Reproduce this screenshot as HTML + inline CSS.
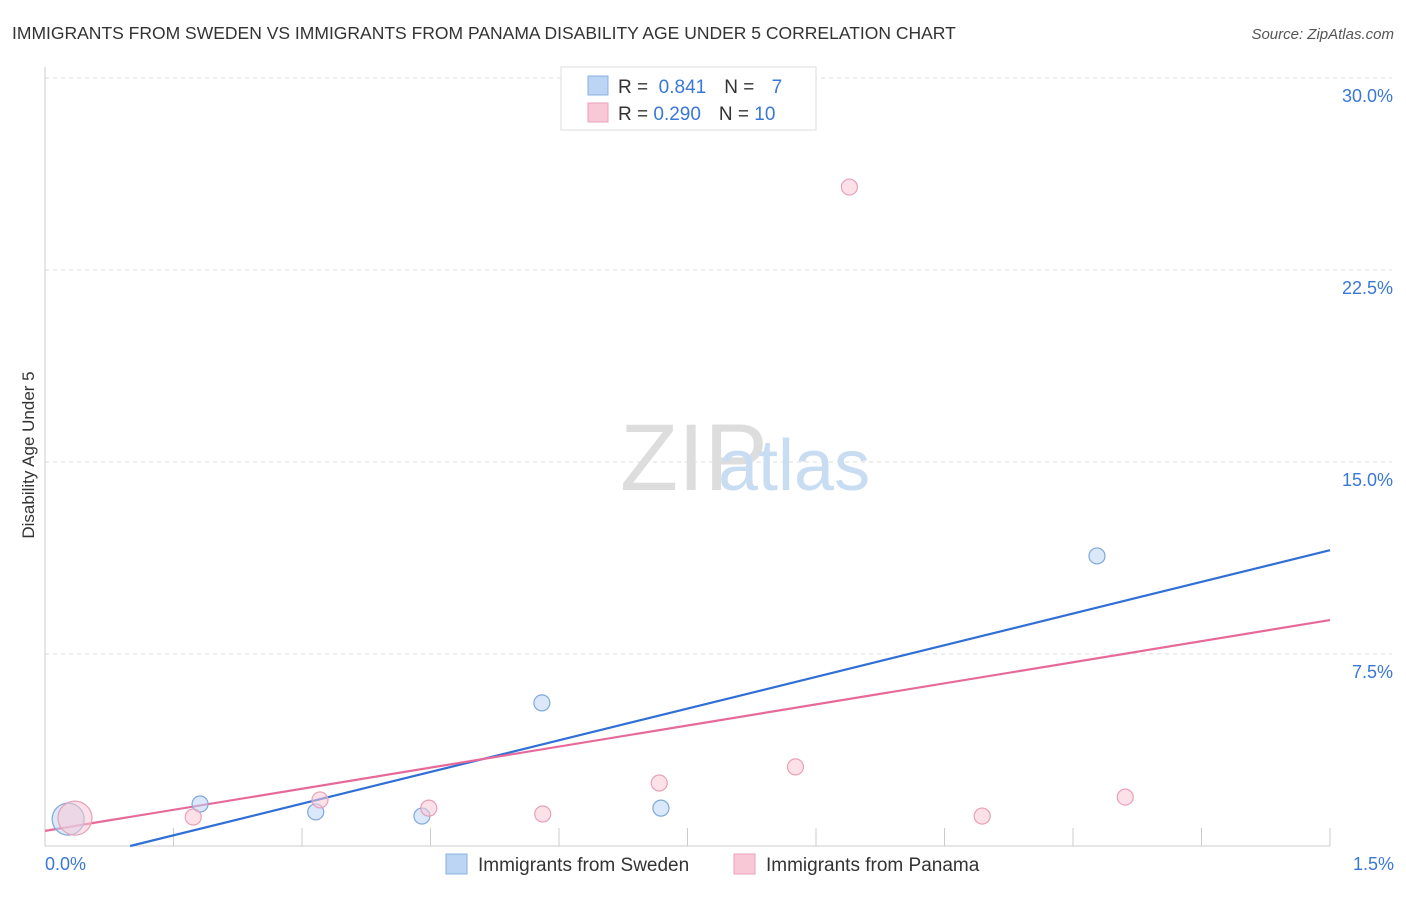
<!DOCTYPE html>
<html><head><meta charset="utf-8">
<style>
body{margin:0;background:#fff;font-family:"Liberation Sans",sans-serif;}
svg text{font-family:"Liberation Sans",sans-serif;}
</style></head>
<body>
<svg id="chart" width="1406" height="892">
<text x="12" y="39" font-size="17.5" fill="#333">IMMIGRANTS FROM SWEDEN VS IMMIGRANTS FROM PANAMA DISABILITY AGE UNDER 5 CORRELATION CHART</text>
<text x="1394" y="39" font-size="15" fill="#555" font-style="italic" text-anchor="end">Source: ZipAtlas.com</text>
<text x="34" y="455" font-size="17" fill="#333" text-anchor="middle" transform="rotate(-90 34 455)">Disability Age Under 5</text>
<g id="grid"></g>
<g id="ticks"></g>
<text x="620" y="490" font-size="95" fill="#ddd" font-family="Liberation Serif">ZIP</text>
<text x="718" y="490" font-size="72" fill="#c8dcf2">atlas</text>
<g id="lines"></g>
<g id="points"></g>
<g>
<rect x="561" y="67" width="255" height="63" fill="#fff" stroke="#ddd"/>
<rect x="588" y="76" width="20" height="19" fill="#bcd5f5" stroke="#8ab0e0"/>
<text x="618" y="93" font-size="19" fill="#333">R = <tspan fill="#3a78d8">&#160;0.841</tspan><tspan dx="18">N = </tspan><tspan fill="#3a78d8" dx="12">7</tspan></text>
<rect x="588" y="103" width="20" height="19" fill="#f9c8d6" stroke="#eaa0b8"/>
<text x="618" y="120" font-size="19" fill="#333">R = <tspan fill="#3a78d8">0.290</tspan><tspan dx="18">N = </tspan><tspan fill="#3a78d8">10</tspan></text>
</g>
<g>
<rect x="446" y="854" width="21" height="20" fill="#bcd5f5" stroke="#8ab0e0"/>
<text x="478" y="871" font-size="19" fill="#333">Immigrants from Sweden</text>
<rect x="734" y="854" width="21" height="20" fill="#f9c8d6" stroke="#eaa0b8"/>
<text x="766" y="871" font-size="19" fill="#333">Immigrants from Panama</text>
</g>
</svg>
<script>
const yTicks=[7.5,15,22.5,30];
const yTickLabels=["7.5%","15.0%","22.5%","30.0%"];
const xTickLabels=["0.0%","1.5%"];
const swedenX=[0.027,0.181,0.316,0.44,0.58,0.719,1.228];
const swedenY=[1.05,1.64,1.33,1.17,5.59,1.48,11.33];
const swedenR=[16,8,8,8,8,8,8];
const panamaX=[0.035,0.173,0.321,0.448,0.581,0.717,0.876,0.939,1.094,1.261];
const panamaY=[1.09,1.13,1.80,1.48,1.25,2.46,3.09,25.74,1.17,1.91];
const panamaR=[17,8,8,8,8,8,8,8,8,8];
const swedenTrend=[-0.82,8.25];
const panamaTrend=[0.59,5.49];
const NS="http://www.w3.org/2000/svg";
const X=v=>45+v/1.5*1285, Y=v=>846-v/7.5*192;
function mk(tag,attrs,parent){const e=document.createElementNS(NS,tag);for(const k in attrs)e.setAttribute(k,attrs[k]);document.getElementById(parent).appendChild(e);return e;}
yTicks.forEach((t,i)=>{
 const l=mk('line',{x1:45,x2:1392,y1:Y(t),y2:Y(t),stroke:'#ddd','stroke-dasharray':'4,4'},'grid');
 
 
 const tx=mk('text',{x:1393,y:Y(t)+24,'font-size':18,fill:'#3a78d8','text-anchor':'end'},'ticks');
 tx.textContent=yTickLabels[i];
 
 
});
const ax=mk('line',{x1:45,x2:45,y1:67,y2:846,stroke:'#ccc'},'grid');


const bx=mk('line',{x1:45,x2:1330,y1:846,y2:846,stroke:'#ccc'},'grid');


for(let i=1;i<=10;i++){
 const t=mk('line',{x1:X(i*0.15),x2:X(i*0.15),y1:828,y2:846,stroke:'#ccc'},'grid');
 
 
}
[[0,'start',45],[1.5,'end',1394]].forEach((d,i)=>{
 const t=mk('text',{x:d[2],y:870,'font-size':18,fill:'#3a78d8','text-anchor':d[1]},'ticks');
 t.textContent=xTickLabels[i];
 
 
});
function pts(xs,ys,rs,fill,stroke,name){
 xs.forEach((x,i)=>{
  const c=mk('circle',{cx:X(x),cy:Y(ys[i]),r:rs[i],fill:fill,stroke:stroke,'stroke-width':1.2,'fill-opacity':0.55},'points');
  
  
 });
}
pts(swedenX,swedenY,swedenR,'#bcd5f5','#7fa8dc','point-sweden');
pts(panamaX,panamaY,panamaR,'#f9c8d6','#e8a0b8','point-panama');
function trend(tr,color,name){
 let x0=0; if(tr[0]<0) x0=-tr[0]/tr[1];
 const l=mk('line',{x1:X(x0),y1:Y(tr[0]+tr[1]*x0),x2:X(1.5),y2:Y(tr[0]+tr[1]*1.5),stroke:color,'stroke-width':2.2},'lines');
 
 
}
trend(swedenTrend,'#2f6fd6','trendline-sweden');
trend(panamaTrend,'#e7699a','trendline-panama');
</script>
</body></html>
